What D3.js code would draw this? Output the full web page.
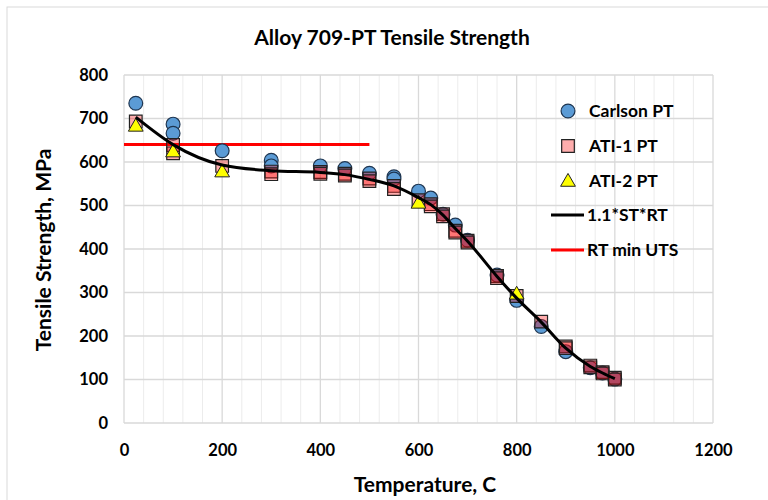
<!DOCTYPE html>
<meta charset="utf-8">
<script src="https://d3js.org/d3.v7.min.js"></script>
<style>
  body { margin: 0; background: #fff; }
  text { font-family: Lato, "Open Sans", sans-serif; font-weight: bold; fill: #000; }
</style>
<div id="my_dataviz"></div>
<script>

// data
var carlsonT = [24, 100, 100, 200, 300, 300, 400, 450, 500, 550, 550, 600, 625, 650, 675, 700, 760, 800, 850, 900, 950, 975, 1000]
var carlsonS = [735, 687, 666, 626, 604, 591, 591, 585, 574, 566, 561, 533, 517, 480, 455, 420, 340, 282, 222, 164, 127, 115, 101]

var ati1T = [24, 100, 100, 200, 300, 300, 400, 400, 450, 450, 500, 500, 550, 550, 600, 625, 625, 650, 650, 675, 675, 700, 700, 760, 760, 800, 850, 900, 900, 950, 950, 975, 975, 1000, 1000]
var ati1S = [693, 639, 620, 591, 578, 572, 577, 573, 573, 569, 562, 556, 545, 538, 512, 503, 498, 480, 475, 442, 438, 419, 415, 338, 333, 292, 233, 176, 172, 132, 128, 117, 114, 104, 100]

var ati2T = [24, 100, 200, 600, 800]
var ati2S = [683, 624, 578, 506, 297]

var fitT = [24, 100, 200, 300, 400, 450, 500, 550, 600, 625, 650, 675, 700, 760, 800, 850, 900, 950, 975, 1000]
var fitS = [703, 640, 593, 580, 576, 571, 560, 545, 518, 502, 478, 447, 418, 337, 287, 232, 172, 130, 115, 102]

var minT = [0, 500]
var minS = [640, 640]

var xTicks = [0, 200, 400, 600, 800, 1000, 1200]
var yTicks = [0, 100, 200, 300, 400, 500, 600, 700, 800]

var legendNames = ["Carlson PT", "ATI-1 PT", "ATI-2 PT", "1.1*ST*RT", "RT min UTS"]

var width = 768, height = 500
var margin = {left: 124, right: 55, top: 75, bottom: 77}

var svg = d3.select("#my_dataviz").append("svg")
  .attr("width", width).attr("height", height)

// chart frame
svg.append("rect")
  .attr("x", 7).attr("y", 7).attr("width", width).attr("height", height)
  .attr("fill", "none").attr("stroke", "#d9d9d9")

var x = d3.scaleLinear().domain([0, 1200]).range([margin.left, width - margin.right])
var y = d3.scaleLinear().domain([0, 800]).range([height - margin.bottom, margin.top])

// gridlines
svg.append("g").selectAll("line")
  .data(d3.range(0, 1201, 40).filter(function(d){ return d % 200 != 0 }))
  .enter().append("line")
  .attr("x1", d => x(d)).attr("x2", d => x(d))
  .attr("y1", y(0)).attr("y2", y(800))
  .attr("stroke", "#ececec").attr("stroke-width", 1)

svg.append("g").selectAll("line")
  .data(xTicks)
  .enter().append("line")
  .attr("x1", d => x(d)).attr("x2", d => x(d))
  .attr("y1", y(0)).attr("y2", y(800))
  .attr("stroke", "#d9d9d9").attr("stroke-width", 1.3)

svg.append("g").selectAll("line")
  .data(yTicks)
  .enter().append("line")
  .attr("x1", x(0)).attr("x2", x(1200))
  .attr("y1", d => y(d)).attr("y2", d => y(d))
  .attr("stroke", "#d9d9d9").attr("stroke-width", 1.3)

// axes (labels only)
var xAxis = svg.append("g")
  .attr("transform", "translate(0," + y(0) + ")")
  .call(d3.axisBottom(x).tickValues(xTicks).tickFormat(d3.format("d")).tickSize(0).tickPadding(21))
var yAxis = svg.append("g")
  .attr("transform", "translate(" + x(0) + ",0)")
  .call(d3.axisLeft(y).tickValues(yTicks).tickFormat(d3.format("d")).tickSize(0).tickPadding(16))
xAxis.select(".domain").remove()
yAxis.select(".domain").remove()
svg.selectAll(".tick text").style("font-size", "16.5px").style("font-family", "Lato, sans-serif").style("font-weight", "bold")

// titles
svg.append("text").attr("x", 392).attr("y", 45).attr("text-anchor", "middle")
  .style("font-size", "21px").text("Alloy 709-PT Tensile Strength")
svg.append("text").attr("x", 425).attr("y", 492).attr("text-anchor", "middle")
  .style("font-size", "21px").text("Temperature, C")
svg.append("text").attr("transform", "translate(51,250) rotate(-90)").attr("text-anchor", "middle")
  .style("font-size", "21px").text("Tensile Strength, MPa")

// lines
var line = d3.line().x(d => x(d[0])).y(d => y(d[1]))
svg.append("path").datum(d3.zip(minT, minS))
  .attr("d", line).attr("fill", "none").attr("stroke", "#ff0000").attr("stroke-width", 3)

// markers
var sym = {
  circle: d3.symbol().type(d3.symbolCircle).size(150),
  square: d3.symbol().type(d3.symbolSquare).size(160),
  tri: d3.symbol().type(d3.symbolTriangle).size(95)
}

svg.append("g").selectAll("path")
  .data(d3.zip(carlsonT, carlsonS))
  .enter().append("path")
  .attr("d", sym.circle)
  .attr("transform", d => "translate(" + x(d[0]) + "," + y(d[1]) + ")")
  .attr("fill", "#5b9bd5").attr("stroke", "#1e3550").attr("stroke-width", 1.2)

svg.append("g").selectAll("path")
  .data(d3.zip(ati1T, ati1S))
  .enter().append("path")
  .attr("d", sym.square)
  .attr("transform", d => "translate(" + x(d[0]) + "," + y(d[1]) + ")")
  .attr("fill", "rgba(255,0,0,0.32)").attr("stroke", "#222").attr("stroke-width", 1.2)

svg.append("g").selectAll("path")
  .data(d3.zip(ati2T, ati2S))
  .enter().append("path")
  .attr("d", sym.tri)
  .attr("transform", d => "translate(" + x(d[0]) + "," + (y(d[1]) + 1) + ")")
  .attr("fill", "#ffff00").attr("stroke", "#222").attr("stroke-width", 1)

svg.append("path").datum(d3.zip(fitT, fitS))
  .attr("d", line.curve(d3.curveMonotoneX)).attr("fill", "none").attr("stroke", "#000").attr("stroke-width", 3)

// legend
var lx = 568, ly = [111, 146, 181, 215, 250]
var lg = svg.append("g")
lg.append("path").attr("d", sym.circle).attr("transform", "translate(" + lx + "," + ly[0] + ")")
  .attr("fill", "#5b9bd5").attr("stroke", "#1e3550").attr("stroke-width", 1.2)
lg.append("path").attr("d", sym.square).attr("transform", "translate(" + lx + "," + ly[1] + ")")
  .attr("fill", "rgba(255,0,0,0.32)").attr("stroke", "#222").attr("stroke-width", 1.2)
lg.append("path").attr("d", sym.tri).attr("transform", "translate(" + lx + "," + (ly[2] + 1) + ")")
  .attr("fill", "#ffff00").attr("stroke", "#222").attr("stroke-width", 1)
lg.append("line").attr("x1", 551).attr("x2", 584).attr("y1", ly[3]).attr("y2", ly[3])
  .attr("stroke", "#000").attr("stroke-width", 3)
lg.append("line").attr("x1", 551).attr("x2", 584).attr("y1", ly[4]).attr("y2", ly[4])
  .attr("stroke", "#ff0000").attr("stroke-width", 3)
lg.selectAll("text").data(legendNames).enter().append("text")
  .attr("x", (d, i) => i < 3 ? 589 : 587)
  .attr("y", (d, i) => ly[i] + 6)
  .style("font-size", "17.5px")
  .text(d => d)

</script>
